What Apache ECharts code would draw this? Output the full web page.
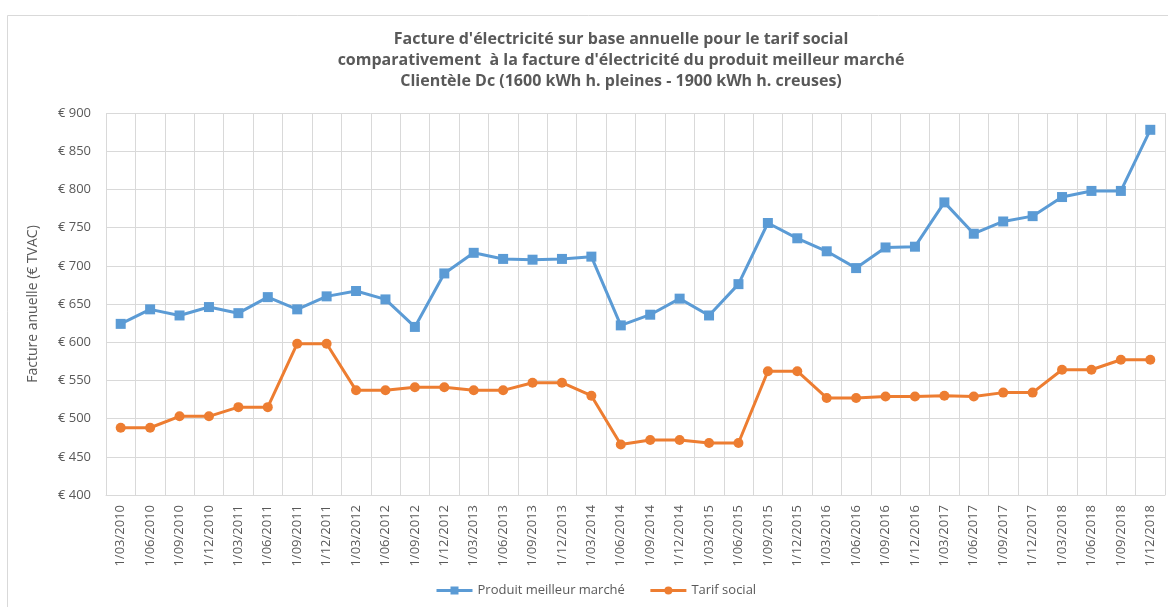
<!DOCTYPE html>
<html>
<head>
<meta charset="utf-8">
<script src="https://cdn.jsdelivr.net/npm/echarts@6/dist/echarts.min.js"></script>
<style>
html,body{margin:0;padding:0;background:#fff;}
#chart{width:1168px;height:607px;}
</style>
</head>
<body>
<div id="chart"></div>
<script>
const categories = [
  "1/03/2010","1/06/2010","1/09/2010","1/12/2010",
  "1/03/2011","1/06/2011","1/09/2011","1/12/2011",
  "1/03/2012","1/06/2012","1/09/2012","1/12/2012",
  "1/03/2013","1/06/2013","1/09/2013","1/12/2013",
  "1/03/2014","1/06/2014","1/09/2014","1/12/2014",
  "1/03/2015","1/06/2015","1/09/2015","1/12/2015",
  "1/03/2016","1/06/2016","1/09/2016","1/12/2016",
  "1/03/2017","1/06/2017","1/09/2017","1/12/2017",
  "1/03/2018","1/06/2018","1/09/2018","1/12/2018"
];
const produitMeilleurMarche = [
  624, 643, 635, 646,
  638, 659, 643, 660,
  667, 656, 620, 690,
  717, 709, 708, 709,
  712, 622, 636, 657,
  635, 676, 756, 736,
  719, 697, 724, 725,
  783, 742, 758, 765,
  790, 798, 798, 878
];
const tarifSocial = [
  488, 488, 503, 503,
  515, 515, 598, 598,
  537, 537, 541, 541,
  537, 537, 547, 547,
  530, 466, 472, 472,
  468, 468, 562, 562,
  527, 527, 529, 529,
  530, 529, 534, 534,
  564, 564, 577, 577
];
const yTicks = { min: 400, max: 900, interval: 50 };
const titleLines = [
  "Facture d'électricité sur base annuelle pour le tarif social",
  "comparativement  à la facture d'électricité du produit meilleur marché",
  "Clientèle Dc (1600 kWh h. pleines - 1900 kWh h. creuses)"
];

const chart = echarts.init(document.getElementById('chart'));
const font = "Open Sans, Noto Sans, sans-serif";
chart.setOption({
  animation: false,
  backgroundColor: '#fff',
  graphic: [{
    type: 'rect',
    shape: { x: 7.5, y: 15.5, width: 1300, height: 700 },
    style: { fill: 'none', stroke: '#D9D9D9', lineWidth: 1 },
    silent: true, z: -1
  }, {
    type: 'text',
    x: 621, y: 29,
    silent: true,
    style: {
      text: titleLines.join('\n'),
      align: 'center',
      verticalAlign: 'top',
      fontFamily: font, fontSize: 16, fontWeight: 'bold',
      fill: '#595959', lineHeight: 21
    }
  }],
  legend: {
    bottom: 5,
    left: 430,
    itemGap: 24,
    itemWidth: 36,
    itemHeight: 10,
    lineStyle: { width: 3 },
    textStyle: { fontFamily: font, fontSize: 13, color: '#595959' },
    data: ['Produit meilleur marché', 'Tarif social']
  },
  grid: { left: 106, right: 3, top: 113, bottom: 112, containLabel: false },
  xAxis: {
    type: 'category',
    data: categories,
    boundaryGap: true,
    axisLine: { show: true, lineStyle: { color: '#D9D9D9', width: 1 } },
    axisTick: { show: false },
    splitLine: { show: true, lineStyle: { color: '#D9D9D9', width: 1 } },
    axisLabel: {
      interval: 0, rotate: 90, margin: 10,
      fontFamily: font, fontSize: 13, color: '#595959'
    }
  },
  yAxis: {
    type: 'value',
    min: yTicks.min, max: yTicks.max, interval: yTicks.interval,
    name: 'Facture anuelle (€ TVAC)',
    nameLocation: 'middle',
    nameGap: 66,
    nameTextStyle: { fontFamily: font, fontSize: 14, color: '#595959' },
    axisLine: { show: false },
    axisTick: { show: false },
    splitLine: { lineStyle: { color: '#D9D9D9', width: 1 } },
    axisLabel: {
      margin: 15,
      fontFamily: font, fontSize: 13, color: '#595959',
      formatter: v => '€ ' + v
    }
  },
  series: [
    {
      name: 'Produit meilleur marché',
      type: 'line',
      data: produitMeilleurMarche,
      symbol: 'rect',
      symbolSize: 10,
      itemStyle: { color: '#5B9BD5' },
      lineStyle: { color: '#5B9BD5', width: 3 }
    },
    {
      name: 'Tarif social',
      type: 'line',
      data: tarifSocial,
      symbol: 'circle',
      symbolSize: 10,
      itemStyle: { color: '#ED7D31' },
      lineStyle: { color: '#ED7D31', width: 3 }
    }
  ]
});
</script>
</body>
</html>
